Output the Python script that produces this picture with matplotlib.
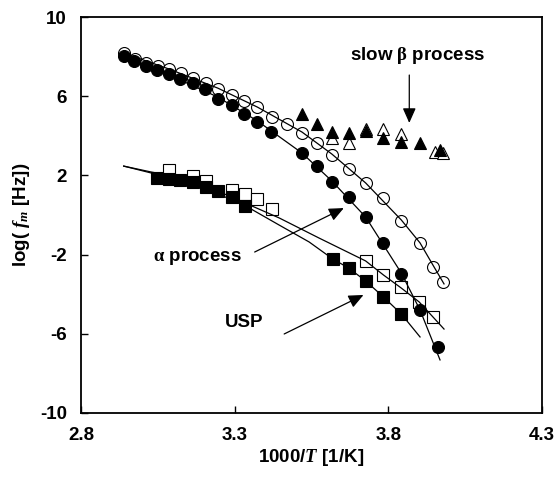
import matplotlib
matplotlib.use("Agg")
import matplotlib.pyplot as plt

plt.rcParams['font.family'] = ['Liberation Sans', 'DejaVu Sans']
plt.rcParams['font.weight'] = 'bold'
plt.rcParams['mathtext.fontset'] = 'custom'
plt.rcParams['mathtext.it'] = 'Liberation Serif:italic'
plt.rcParams['mathtext.rm'] = 'Liberation Serif'
plt.rcParams['axes.unicode_minus'] = False

# ---- data (x = 1000/T, y = log f_m) ----
oc_x = [2.939, 2.977, 3.013, 3.052, 3.087, 3.126, 3.165, 3.206, 3.245, 3.290, 3.329, 3.371,
        3.423, 3.471, 3.519, 3.568, 3.616, 3.671, 3.726, 3.784, 3.842, 3.903, 3.945, 3.977]
oc_y = [8.18, 7.88, 7.68, 7.53, 7.37, 7.17, 6.92, 6.67, 6.36, 6.06, 5.76, 5.45,
        4.95, 4.60, 4.14, 3.64, 3.03, 2.32, 1.62, 0.86, -0.30, -1.41, -2.63, -3.38]

fc_x = [2.939, 2.974, 3.010, 3.048, 3.087, 3.123, 3.165, 3.203, 3.245, 3.290, 3.329, 3.374,
        3.419, 3.519, 3.568, 3.616, 3.671, 3.726, 3.784, 3.842, 3.903, 3.961]
fc_y = [8.03, 7.78, 7.53, 7.32, 7.12, 6.87, 6.67, 6.36, 5.86, 5.56, 5.10, 4.70,
        4.19, 3.13, 2.47, 1.67, 0.91, -0.10, -1.41, -2.98, -4.80, -6.67]

os_x = [3.087, 3.165, 3.206, 3.290, 3.332, 3.374, 3.423, 3.726, 3.784, 3.842, 3.900, 3.945]
os_y = [2.27, 1.97, 1.72, 1.26, 1.06, 0.81, 0.30, -2.32, -3.03, -3.64, -4.39, -5.15]

fs_x = [3.048, 3.087, 3.123, 3.165, 3.206, 3.245, 3.290, 3.332, 3.619, 3.671, 3.726, 3.784, 3.842]
fs_y = [1.87, 1.82, 1.77, 1.67, 1.41, 1.21, 0.91, 0.45, -2.22, -2.68, -3.33, -4.14, -5.00]

ot_x = [3.616, 3.671, 3.726, 3.784, 3.842, 3.952, 3.977]
ot_y = [3.89, 3.64, 4.34, 4.34, 4.09, 3.18, 3.13]

ft_x = [3.519, 3.568, 3.616, 3.671, 3.726, 3.784, 3.842, 3.903, 3.968]
ft_y = [5.10, 4.60, 4.19, 4.14, 4.24, 3.89, 3.69, 3.64, 3.28]

# fit curves as drawn in the figure
fit_oc_x = [2.939, 3.087, 3.245, 3.374, 3.519, 3.616, 3.726, 3.842, 3.903, 3.945, 3.981]
fit_oc_y = [8.18, 7.37, 6.41, 5.45, 4.19, 3.08, 1.62, -0.25, -1.41, -2.53, -3.48]
fit_fc_x = [2.939, 3.087, 3.245, 3.374, 3.519, 3.616, 3.726, 3.842, 3.903, 3.968]
fit_fc_y = [8.03, 7.07, 5.96, 4.75, 3.13, 1.72, -0.10, -2.93, -4.80, -7.32]
fit_os_x = [2.939, 3.029, 3.155, 3.348, 3.445, 3.574, 3.726, 3.784, 3.842, 3.900, 3.945, 3.981]
fit_os_y = [2.47, 2.17, 1.82, 0.51, -0.15, -1.16, -2.32, -3.03, -3.69, -4.39, -5.15, -5.76]
fit_fs_x = [2.939, 3.029, 3.155, 3.348, 3.445, 3.542, 3.619, 3.671, 3.726, 3.784, 3.842, 3.903]
fit_fs_y = [2.47, 2.12, 1.72, 0.35, -0.51, -1.36, -2.22, -2.68, -3.33, -4.14, -5.00, -6.16]

xticks = [2.8, 3.3, 3.8, 4.3]
yticks = [-10, -6, -2, 2, 6, 10]

fig = plt.figure(figsize=(5.6, 4.92), dpi=100)
ax = fig.add_axes([0.1446, 0.1606, 0.8234, 0.8048])

ms_c, ms_s, ms_t = 8.6, 9.0, 8.6
mew = 0.8
# open markers first, filled on top
ax.plot(os_x, os_y, 's', ms=ms_s, mfc='white', mec='black', mew=mew)
ax.plot(fs_x, fs_y, 's', ms=ms_s, mfc='black', mec='black', mew=mew)
ax.plot(oc_x, oc_y, 'o', ms=ms_c, mfc='white', mec='black', mew=mew)
ax.plot(fc_x, fc_y, 'o', ms=ms_c, mfc='black', mec='black', mew=mew)
ax.plot(ot_x, ot_y, '^', ms=ms_t, mfc='white', mec='black', mew=mew)
ax.plot(ft_x, ft_y, '^', ms=ms_t, mfc='black', mec='black', mew=mew)

for fx, fy in [(fit_oc_x, fit_oc_y), (fit_fc_x, fit_fc_y),
               (fit_os_x, fit_os_y), (fit_fs_x, fit_fs_y)]:
    ax.plot(fx, fy, '-', color='black', lw=0.9)

arrow = dict(arrowstyle='-|>,head_length=0.9,head_width=0.4', color='black', lw=0.9,
             shrinkA=0, shrinkB=0)
ax.annotate('', xy=(3.868, 4.65), xytext=(3.868, 7.07), arrowprops=arrow)
ax.annotate('', xy=(3.655, 0.35), xytext=(3.365, -1.87), arrowprops=arrow)
ax.annotate('', xy=(3.719, -4.04), xytext=(3.461, -6.01), arrowprops=arrow)

ax.text(3.894, 8.08, r'slow $\mathrm{\beta}$ process', fontsize=13.5, fontweight='bold',
        ha='center', va='center')
ax.text(3.18, -2.17, r'$\mathrm{\alpha}$ process', fontsize=13.5, fontweight='bold',
        ha='center', va='center')
ax.text(3.33, -5.45, 'USP', fontsize=13.5, fontweight='bold', ha='center', va='center')

ax.set_xlim(2.8, 4.3)
ax.set_ylim(-10, 10)
ax.set_xticks(xticks)
ax.set_xticklabels(['2.8', '3.3', '3.8', '4.3'])
ax.set_yticks(yticks)
ax.tick_params(direction='in', length=5, width=1, labelsize=13.5, pad=10)
for s in ax.spines.values():
    s.set_linewidth(1.3)

ax.set_xlabel(r'1000/$T$ [1/K]', fontsize=13.5, fontweight='bold', labelpad=2)
ax.set_ylabel(r'log( $f_m$ [Hz])', fontsize=13.5, fontweight='bold', labelpad=6)

fig.savefig('out.png', dpi=100)
